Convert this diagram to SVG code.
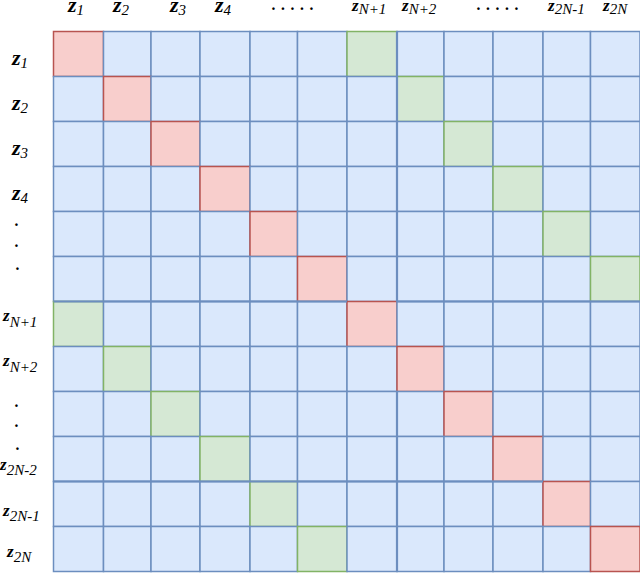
<svg xmlns="http://www.w3.org/2000/svg" width="640" height="573" viewBox="0 0 640 573">
<style>
.b{fill:#dae8fc;stroke:#6c8ebf;stroke-width:1.5}
.p{fill:#f8cecc;stroke:#b85450;stroke-width:1.5}
.g{fill:#d5e8d4;stroke:#82b366;stroke-width:1.5}
.sep{stroke:#6c8ebf;stroke-width:2.2;fill:none}
text{font-family:"Liberation Serif","Times New Roman",serif;font-style:italic;fill:#000}
.z{font-weight:bold;font-size:22px}
.zs{font-weight:bold;font-size:17px}
.s{font-size:15px}
.dots{font-size:16px;font-weight:bold;letter-spacing:5.5px}
</style>
<rect width="640" height="573" fill="#fff"/>
<g id="matrix">
<g id="row1">
<rect id="c1-1" class="p" x="53.5" y="31.5" width="50" height="45"/>
<rect id="c1-2" class="b" x="103.5" y="31.5" width="47.5" height="45"/>
<rect id="c1-3" class="b" x="151" y="31.5" width="49" height="45"/>
<rect id="c1-4" class="b" x="200" y="31.5" width="50" height="45"/>
<rect id="c1-5" class="b" x="250" y="31.5" width="47.5" height="45"/>
<rect id="c1-6" class="b" x="297.5" y="31.5" width="49.5" height="45"/>
<rect id="c1-7" class="g" x="347" y="31.5" width="50" height="45"/>
<rect id="c1-8" class="b" x="397" y="31.5" width="47" height="45"/>
<rect id="c1-9" class="b" x="444" y="31.5" width="49" height="45"/>
<rect id="c1-10" class="b" x="493" y="31.5" width="50" height="45"/>
<rect id="c1-11" class="b" x="543" y="31.5" width="47.5" height="45"/>
<rect id="c1-12" class="b" x="590.5" y="31.5" width="49.5" height="45"/>
</g>
<g id="row2">
<rect id="c2-1" class="b" x="53.5" y="76.5" width="50" height="45"/>
<rect id="c2-2" class="p" x="103.5" y="76.5" width="47.5" height="45"/>
<rect id="c2-3" class="b" x="151" y="76.5" width="49" height="45"/>
<rect id="c2-4" class="b" x="200" y="76.5" width="50" height="45"/>
<rect id="c2-5" class="b" x="250" y="76.5" width="47.5" height="45"/>
<rect id="c2-6" class="b" x="297.5" y="76.5" width="49.5" height="45"/>
<rect id="c2-7" class="b" x="347" y="76.5" width="50" height="45"/>
<rect id="c2-8" class="g" x="397" y="76.5" width="47" height="45"/>
<rect id="c2-9" class="b" x="444" y="76.5" width="49" height="45"/>
<rect id="c2-10" class="b" x="493" y="76.5" width="50" height="45"/>
<rect id="c2-11" class="b" x="543" y="76.5" width="47.5" height="45"/>
<rect id="c2-12" class="b" x="590.5" y="76.5" width="49.5" height="45"/>
</g>
<g id="row3">
<rect id="c3-1" class="b" x="53.5" y="121.5" width="50" height="45"/>
<rect id="c3-2" class="b" x="103.5" y="121.5" width="47.5" height="45"/>
<rect id="c3-3" class="p" x="151" y="121.5" width="49" height="45"/>
<rect id="c3-4" class="b" x="200" y="121.5" width="50" height="45"/>
<rect id="c3-5" class="b" x="250" y="121.5" width="47.5" height="45"/>
<rect id="c3-6" class="b" x="297.5" y="121.5" width="49.5" height="45"/>
<rect id="c3-7" class="b" x="347" y="121.5" width="50" height="45"/>
<rect id="c3-8" class="b" x="397" y="121.5" width="47" height="45"/>
<rect id="c3-9" class="g" x="444" y="121.5" width="49" height="45"/>
<rect id="c3-10" class="b" x="493" y="121.5" width="50" height="45"/>
<rect id="c3-11" class="b" x="543" y="121.5" width="47.5" height="45"/>
<rect id="c3-12" class="b" x="590.5" y="121.5" width="49.5" height="45"/>
</g>
<g id="row4">
<rect id="c4-1" class="b" x="53.5" y="166.5" width="50" height="45"/>
<rect id="c4-2" class="b" x="103.5" y="166.5" width="47.5" height="45"/>
<rect id="c4-3" class="b" x="151" y="166.5" width="49" height="45"/>
<rect id="c4-4" class="p" x="200" y="166.5" width="50" height="45"/>
<rect id="c4-5" class="b" x="250" y="166.5" width="47.5" height="45"/>
<rect id="c4-6" class="b" x="297.5" y="166.5" width="49.5" height="45"/>
<rect id="c4-7" class="b" x="347" y="166.5" width="50" height="45"/>
<rect id="c4-8" class="b" x="397" y="166.5" width="47" height="45"/>
<rect id="c4-9" class="b" x="444" y="166.5" width="49" height="45"/>
<rect id="c4-10" class="g" x="493" y="166.5" width="50" height="45"/>
<rect id="c4-11" class="b" x="543" y="166.5" width="47.5" height="45"/>
<rect id="c4-12" class="b" x="590.5" y="166.5" width="49.5" height="45"/>
</g>
<g id="row5">
<rect id="c5-1" class="b" x="53.5" y="211.5" width="50" height="45"/>
<rect id="c5-2" class="b" x="103.5" y="211.5" width="47.5" height="45"/>
<rect id="c5-3" class="b" x="151" y="211.5" width="49" height="45"/>
<rect id="c5-4" class="b" x="200" y="211.5" width="50" height="45"/>
<rect id="c5-5" class="p" x="250" y="211.5" width="47.5" height="45"/>
<rect id="c5-6" class="b" x="297.5" y="211.5" width="49.5" height="45"/>
<rect id="c5-7" class="b" x="347" y="211.5" width="50" height="45"/>
<rect id="c5-8" class="b" x="397" y="211.5" width="47" height="45"/>
<rect id="c5-9" class="b" x="444" y="211.5" width="49" height="45"/>
<rect id="c5-10" class="b" x="493" y="211.5" width="50" height="45"/>
<rect id="c5-11" class="g" x="543" y="211.5" width="47.5" height="45"/>
<rect id="c5-12" class="b" x="590.5" y="211.5" width="49.5" height="45"/>
</g>
<g id="row6">
<rect id="c6-1" class="b" x="53.5" y="256.5" width="50" height="45"/>
<rect id="c6-2" class="b" x="103.5" y="256.5" width="47.5" height="45"/>
<rect id="c6-3" class="b" x="151" y="256.5" width="49" height="45"/>
<rect id="c6-4" class="b" x="200" y="256.5" width="50" height="45"/>
<rect id="c6-5" class="b" x="250" y="256.5" width="47.5" height="45"/>
<rect id="c6-6" class="p" x="297.5" y="256.5" width="49.5" height="45"/>
<rect id="c6-7" class="b" x="347" y="256.5" width="50" height="45"/>
<rect id="c6-8" class="b" x="397" y="256.5" width="47" height="45"/>
<rect id="c6-9" class="b" x="444" y="256.5" width="49" height="45"/>
<rect id="c6-10" class="b" x="493" y="256.5" width="50" height="45"/>
<rect id="c6-11" class="b" x="543" y="256.5" width="47.5" height="45"/>
<rect id="c6-12" class="g" x="590.5" y="256.5" width="49.5" height="45"/>
</g>
<g id="row7">
<rect id="c7-1" class="g" x="53.5" y="301.5" width="50" height="45"/>
<rect id="c7-2" class="b" x="103.5" y="301.5" width="47.5" height="45"/>
<rect id="c7-3" class="b" x="151" y="301.5" width="49" height="45"/>
<rect id="c7-4" class="b" x="200" y="301.5" width="50" height="45"/>
<rect id="c7-5" class="b" x="250" y="301.5" width="47.5" height="45"/>
<rect id="c7-6" class="b" x="297.5" y="301.5" width="49.5" height="45"/>
<rect id="c7-7" class="p" x="347" y="301.5" width="50" height="45"/>
<rect id="c7-8" class="b" x="397" y="301.5" width="47" height="45"/>
<rect id="c7-9" class="b" x="444" y="301.5" width="49" height="45"/>
<rect id="c7-10" class="b" x="493" y="301.5" width="50" height="45"/>
<rect id="c7-11" class="b" x="543" y="301.5" width="47.5" height="45"/>
<rect id="c7-12" class="b" x="590.5" y="301.5" width="49.5" height="45"/>
</g>
<g id="row8">
<rect id="c8-1" class="b" x="53.5" y="346.5" width="50" height="45"/>
<rect id="c8-2" class="g" x="103.5" y="346.5" width="47.5" height="45"/>
<rect id="c8-3" class="b" x="151" y="346.5" width="49" height="45"/>
<rect id="c8-4" class="b" x="200" y="346.5" width="50" height="45"/>
<rect id="c8-5" class="b" x="250" y="346.5" width="47.5" height="45"/>
<rect id="c8-6" class="b" x="297.5" y="346.5" width="49.5" height="45"/>
<rect id="c8-7" class="b" x="347" y="346.5" width="50" height="45"/>
<rect id="c8-8" class="p" x="397" y="346.5" width="47" height="45"/>
<rect id="c8-9" class="b" x="444" y="346.5" width="49" height="45"/>
<rect id="c8-10" class="b" x="493" y="346.5" width="50" height="45"/>
<rect id="c8-11" class="b" x="543" y="346.5" width="47.5" height="45"/>
<rect id="c8-12" class="b" x="590.5" y="346.5" width="49.5" height="45"/>
</g>
<g id="row9">
<rect id="c9-1" class="b" x="53.5" y="391.5" width="50" height="45"/>
<rect id="c9-2" class="b" x="103.5" y="391.5" width="47.5" height="45"/>
<rect id="c9-3" class="g" x="151" y="391.5" width="49" height="45"/>
<rect id="c9-4" class="b" x="200" y="391.5" width="50" height="45"/>
<rect id="c9-5" class="b" x="250" y="391.5" width="47.5" height="45"/>
<rect id="c9-6" class="b" x="297.5" y="391.5" width="49.5" height="45"/>
<rect id="c9-7" class="b" x="347" y="391.5" width="50" height="45"/>
<rect id="c9-8" class="b" x="397" y="391.5" width="47" height="45"/>
<rect id="c9-9" class="p" x="444" y="391.5" width="49" height="45"/>
<rect id="c9-10" class="b" x="493" y="391.5" width="50" height="45"/>
<rect id="c9-11" class="b" x="543" y="391.5" width="47.5" height="45"/>
<rect id="c9-12" class="b" x="590.5" y="391.5" width="49.5" height="45"/>
</g>
<g id="row10">
<rect id="c10-1" class="b" x="53.5" y="436.5" width="50" height="45"/>
<rect id="c10-2" class="b" x="103.5" y="436.5" width="47.5" height="45"/>
<rect id="c10-3" class="b" x="151" y="436.5" width="49" height="45"/>
<rect id="c10-4" class="g" x="200" y="436.5" width="50" height="45"/>
<rect id="c10-5" class="b" x="250" y="436.5" width="47.5" height="45"/>
<rect id="c10-6" class="b" x="297.5" y="436.5" width="49.5" height="45"/>
<rect id="c10-7" class="b" x="347" y="436.5" width="50" height="45"/>
<rect id="c10-8" class="b" x="397" y="436.5" width="47" height="45"/>
<rect id="c10-9" class="b" x="444" y="436.5" width="49" height="45"/>
<rect id="c10-10" class="p" x="493" y="436.5" width="50" height="45"/>
<rect id="c10-11" class="b" x="543" y="436.5" width="47.5" height="45"/>
<rect id="c10-12" class="b" x="590.5" y="436.5" width="49.5" height="45"/>
</g>
<g id="row11">
<rect id="c11-1" class="b" x="53.5" y="481.5" width="50" height="45"/>
<rect id="c11-2" class="b" x="103.5" y="481.5" width="47.5" height="45"/>
<rect id="c11-3" class="b" x="151" y="481.5" width="49" height="45"/>
<rect id="c11-4" class="b" x="200" y="481.5" width="50" height="45"/>
<rect id="c11-5" class="g" x="250" y="481.5" width="47.5" height="45"/>
<rect id="c11-6" class="b" x="297.5" y="481.5" width="49.5" height="45"/>
<rect id="c11-7" class="b" x="347" y="481.5" width="50" height="45"/>
<rect id="c11-8" class="b" x="397" y="481.5" width="47" height="45"/>
<rect id="c11-9" class="b" x="444" y="481.5" width="49" height="45"/>
<rect id="c11-10" class="b" x="493" y="481.5" width="50" height="45"/>
<rect id="c11-11" class="p" x="543" y="481.5" width="47.5" height="45"/>
<rect id="c11-12" class="b" x="590.5" y="481.5" width="49.5" height="45"/>
</g>
<g id="row12">
<rect id="c12-1" class="b" x="53.5" y="526.5" width="50" height="45"/>
<rect id="c12-2" class="b" x="103.5" y="526.5" width="47.5" height="45"/>
<rect id="c12-3" class="b" x="151" y="526.5" width="49" height="45"/>
<rect id="c12-4" class="b" x="200" y="526.5" width="50" height="45"/>
<rect id="c12-5" class="b" x="250" y="526.5" width="47.5" height="45"/>
<rect id="c12-6" class="g" x="297.5" y="526.5" width="49.5" height="45"/>
<rect id="c12-7" class="b" x="347" y="526.5" width="50" height="45"/>
<rect id="c12-8" class="b" x="397" y="526.5" width="47" height="45"/>
<rect id="c12-9" class="b" x="444" y="526.5" width="49" height="45"/>
<rect id="c12-10" class="b" x="493" y="526.5" width="50" height="45"/>
<rect id="c12-11" class="b" x="543" y="526.5" width="47.5" height="45"/>
<rect id="c12-12" class="p" x="590.5" y="526.5" width="49.5" height="45"/>
</g>
</g>
<g id="separators">
<line class="sep" x1="397" y1="31.5" x2="397" y2="301.5"/>
<line class="sep" x1="397" y1="391.5" x2="397" y2="571.5"/>
<line class="sep" x1="53.5" y1="301.5" x2="347" y2="301.5"/>
<line class="sep" x1="397" y1="301.5" x2="640" y2="301.5"/>
<line class="sep" x1="53.5" y1="481.5" x2="543" y2="481.5"/>
</g>
<g id="col-labels">
<text x="68" y="12"><tspan class="z">z</tspan><tspan class="s" dy="3">1</tspan></text>
<text x="113" y="12"><tspan class="z">z</tspan><tspan class="s" dy="3">2</tspan></text>
<text x="170" y="12"><tspan class="z">z</tspan><tspan class="s" dy="3">3</tspan></text>
<text x="215" y="12"><tspan class="z">z</tspan><tspan class="s" dy="3">4</tspan></text>
<text class="dots" x="272" y="10">.....</text>
<text x="352" y="11"><tspan class="zs">z</tspan><tspan class="s" dy="3">N+1</tspan></text>
<text x="402" y="11"><tspan class="zs">z</tspan><tspan class="s" dy="3">N+2</tspan></text>
<text class="dots" x="477" y="10">.....</text>
<text x="548" y="11"><tspan class="zs">z</tspan><tspan class="s" dy="3">2N-1</tspan></text>
<text x="603" y="11"><tspan class="zs">z</tspan><tspan class="s" dy="3">2N</tspan></text>
</g>
<g id="row-labels">
<text x="12" y="65"><tspan class="z">z</tspan><tspan class="s" dy="3">1</tspan></text>
<text x="12" y="110"><tspan class="z">z</tspan><tspan class="s" dy="3">2</tspan></text>
<text x="12" y="155"><tspan class="z">z</tspan><tspan class="s" dy="3">3</tspan></text>
<text x="12" y="200"><tspan class="z">z</tspan><tspan class="s" dy="3">4</tspan></text>
<text class="dots" x="15" y="226">.</text>
<text class="dots" x="15" y="247">.</text>
<text class="dots" x="16" y="270">.</text>
<text x="3" y="321"><tspan class="zs">z</tspan><tspan class="s" dy="6">N+1</tspan></text>
<text x="3" y="366"><tspan class="zs">z</tspan><tspan class="s" dy="6">N+2</tspan></text>
<text class="dots" x="15" y="407">.</text>
<text class="dots" x="15" y="427">.</text>
<text class="dots" x="16" y="450">.</text>
<text x="0" y="470"><tspan class="zs">z</tspan><tspan class="s" dy="5">2N-2</tspan></text>
<text x="3" y="516"><tspan class="zs">z</tspan><tspan class="s" dy="5">2N-1</tspan></text>
<text x="7" y="557"><tspan class="zs">z</tspan><tspan class="s" dy="5">2N</tspan></text>
</g>
</svg>
